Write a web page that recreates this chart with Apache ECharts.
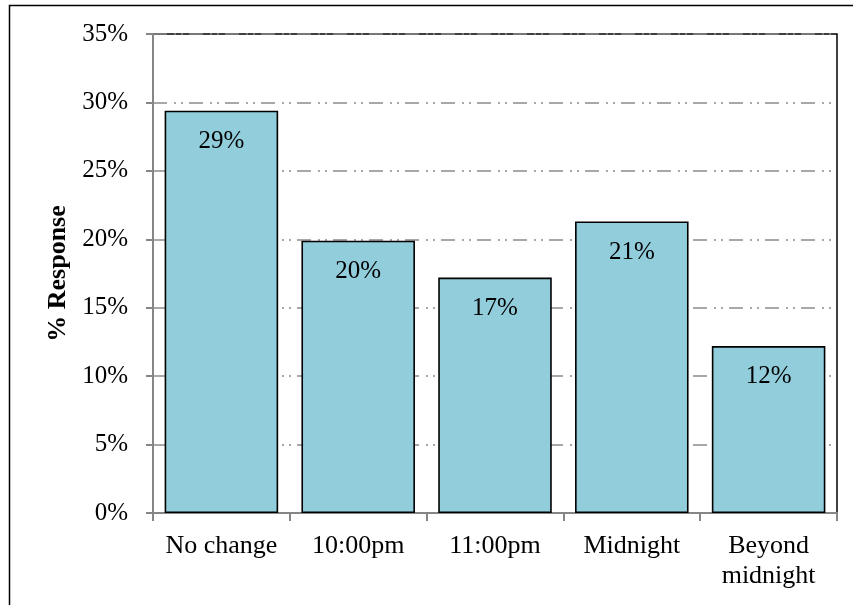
<!DOCTYPE html>
<html>
<head>
<meta charset="utf-8">
<script src="https://cdn.jsdelivr.net/npm/echarts@6/dist/echarts.min.js"></script>
<style>
  html, body { margin: 0; padding: 0; background: #fff; }
  #chart { width: 855px; height: 605px; }
</style>
</head>
<body>
<div id="chart"></div>
<script>
// Preferred bedtime survey: share of responses per option
const categories = ['No change', '10:00pm', '11:00pm', 'Midnight', 'Beyond\nmidnight'];
const responses = [29.4, 19.9, 17.2, 21.3, 12.2];
const yTicks = { min: 0, max: 35, interval: 5 };
const yAxisTitle = '% Response';

const serif = '"Liberation Serif", "Times New Roman", serif';
const axisGray = '#868686';

const chart = echarts.init(document.getElementById('chart'), null, { renderer: 'canvas' });

chart.setOption({
  animation: false,
  backgroundColor: '#ffffff',
  graphic: [{
    type: 'polyline',
    shape: { points: [[9.5, 620], [9.5, 5.5], [853, 5.5]] },
    style: { stroke: '#000', lineWidth: 1.5, fill: null },
    z: 10
  }],
  grid: {
    left: 153, right: 18, top: 34, bottom: 92,
    show: true, borderColor: '#000', borderWidth: 1.5, backgroundColor: '#fff'
  },
  xAxis: {
    type: 'category',
    data: categories,
    axisLine: { show: true, lineStyle: { color: axisGray, width: 2 } },
    axisTick: { show: true, length: 8, lineStyle: { color: axisGray, width: 2 } },
    axisLabel: {
      color: '#000', fontFamily: serif, fontSize: 26, margin: 18,
      lineHeight: 30, interval: 0
    },
    splitLine: { show: false }
  },
  yAxis: {
    type: 'value',
    min: yTicks.min, max: yTicks.max, interval: yTicks.interval,
    name: yAxisTitle,
    nameLocation: 'middle',
    nameGap: 79,
    nameRotate: 90,
    nameTextStyle: { color: '#000', fontFamily: serif, fontSize: 26, fontWeight: 'bold' },
    axisLine: { show: true, lineStyle: { color: axisGray, width: 2 } },
    axisTick: { show: true, length: 7, lineStyle: { color: axisGray, width: 2 } },
    axisLabel: {
      color: '#000', fontFamily: serif, fontSize: 25, margin: 25,
      formatter: v => v + '%'
    },
    splitLine: {
      show: true,
      lineStyle: { color: '#8c8c8c', width: 1.6, type: [14, 7, 2, 5, 2, 6] }
    }
  },
  series: [{
    type: 'bar',
    data: responses,
    barCategoryGap: '17%',
    itemStyle: { color: '#92CDDC', borderColor: '#000', borderWidth: 1.6 },
    label: {
      show: true,
      position: 'insideTop',
      distance: 18,
      color: '#000', fontFamily: serif, fontSize: 25,
      formatter: p => Math.round(p.value) + '%'
    }
  }]
});
</script>
</body>
</html>
